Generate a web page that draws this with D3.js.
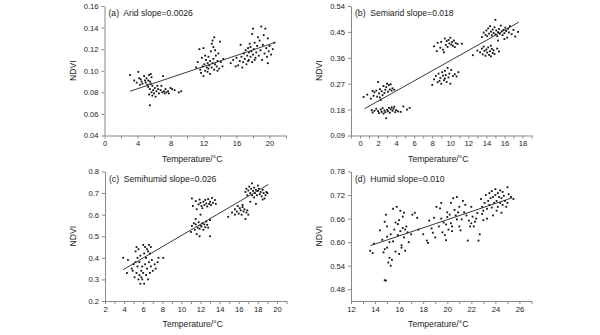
<!DOCTYPE html>
<html>
<head>
<meta charset="utf-8">
<script src="https://cdn.jsdelivr.net/npm/d3@7"></script>
<style>
  body { margin: 0; background: #fff; }
  text { font-family: "Liberation Sans", Arial, sans-serif; fill: #222; }
  .axis path, .axis line { stroke: #888; }
</style>
</head>
<body>
<svg id="chart" width="600" height="335"></svg>
<script>
// (a) Arid
var aridPts = [[3.1,0.096],[3.6,0.091],[3.9,0.089],[4.1,0.099],[4.2,0.093],[4.4,0.092],[4.5,0.090],[4.6,0.088],[4.8,0.095],[4.9,0.091],[5.0,0.089],[5.1,0.093],[5.2,0.087],[5.3,0.085],[5.3,0.091],[5.4,0.096],[5.5,0.090],[5.5,0.083],[5.6,0.097],[5.6,0.088],[5.7,0.094],[5.7,0.080],[5.8,0.086],[5.8,0.077],[5.5,0.068],[5.4,0.078],[5.9,0.082],[6.0,0.079],[6.1,0.084],[6.2,0.076],[6.3,0.081],[6.5,0.083],[6.6,0.079],[6.8,0.082],[6.9,0.086],[7.0,0.080],[7.1,0.095],[7.2,0.081],[7.3,0.079],[7.4,0.083],[7.5,0.080],[7.7,0.081],[7.8,0.079],[8.0,0.084],[8.2,0.083],[8.5,0.082],[9.3,0.081],[9.0,0.080],[4.3,0.087],[6.4,0.086],
  [11.1,0.103],[11.3,0.108],[11.5,0.120],[11.6,0.101],[11.7,0.098],[11.8,0.112],[11.9,0.104],[12.0,0.121],[12.0,0.095],[12.1,0.106],[12.2,0.100],[12.3,0.110],[12.4,0.103],[12.5,0.099],[12.5,0.107],[12.6,0.113],[12.7,0.105],[12.8,0.097],[12.8,0.109],[12.9,0.118],[13.0,0.125],[13.0,0.103],[13.1,0.128],[13.1,0.107],[13.2,0.122],[13.2,0.111],[13.3,0.131],[13.3,0.101],[13.4,0.119],[13.4,0.106],[13.5,0.114],[13.6,0.104],[13.7,0.109],[13.8,0.116],[13.9,0.102],[14.0,0.127],[14.1,0.108],[14.3,0.104],[14.4,0.111],[12.2,0.114],[12.6,0.102],[13.7,0.100],
  [15.3,0.107],[15.6,0.110],[15.9,0.104],[16.0,0.112],[16.2,0.105],[16.4,0.109],[16.5,0.124],[16.6,0.113],[16.8,0.108],[16.9,0.116],[17.0,0.111],[17.1,0.119],[17.2,0.106],[17.3,0.114],[17.4,0.121],[17.5,0.117],[17.5,0.110],[17.6,0.125],[17.7,0.113],[17.7,0.122],[17.8,0.118],[17.9,0.134],[17.9,0.108],[18.0,0.115],[18.0,0.139],[18.1,0.120],[18.2,0.126],[18.3,0.112],[18.4,0.117],[18.5,0.123],[18.6,0.131],[18.7,0.114],[18.8,0.128],[18.9,0.119],[19.0,0.141],[19.1,0.110],[19.2,0.124],[19.3,0.133],[19.4,0.116],[19.5,0.139],[19.6,0.121],[19.7,0.113],[19.8,0.130],[19.9,0.118],[20.0,0.123],[20.2,0.115],[20.4,0.120],[20.6,0.126],[19.8,0.107],[16.7,0.103],[17.4,0.109],[18.2,0.110]];
var aridFit = [[3.1,0.081],[20.6,0.126]];

// (b) Semiarid
var semiaridPts = [[0.4,0.224],[0.8,0.232],[1.2,0.218],[1.5,0.228],[1.6,0.240],[1.8,0.246],[1.9,0.225],[2.0,0.276],[2.1,0.236],[2.2,0.251],[2.3,0.214],[2.4,0.244],[2.5,0.230],[2.6,0.262],[2.7,0.238],[2.8,0.249],[2.9,0.258],[3.0,0.270],[3.1,0.242],[3.2,0.265],[3.3,0.250],[3.4,0.268],[3.5,0.246],[3.6,0.254],[3.8,0.249],[2.2,0.222],[1.4,0.245],
  [1.3,0.178],[1.4,0.170],[1.6,0.176],[1.8,0.183],[2.0,0.175],[2.1,0.168],[2.3,0.180],[2.4,0.172],[2.5,0.185],[2.6,0.166],[2.7,0.177],[2.8,0.171],[2.9,0.150],[3.0,0.179],[3.1,0.174],[3.2,0.186],[3.3,0.169],[3.4,0.181],[3.5,0.188],[3.6,0.176],[3.7,0.183],[3.8,0.190],[4.0,0.178],[4.2,0.174],[4.5,0.172],[4.8,0.191],[5.2,0.180],[5.5,0.186],[3.9,0.171],
  [8.2,0.400],[8.5,0.383],[8.6,0.412],[8.9,0.395],[9.2,0.388],[9.4,0.427],[9.5,0.405],[9.6,0.418],[9.7,0.398],[9.8,0.422],[9.9,0.410],[10.0,0.430],[10.1,0.406],[10.2,0.415],[10.3,0.402],[10.4,0.420],[10.6,0.411],[10.8,0.408],[11.3,0.409],[9.3,0.379],[10.5,0.397],[9.0,0.415],
  [8.0,0.266],[8.2,0.285],[8.4,0.297],[8.6,0.275],[8.7,0.305],[8.9,0.290],[9.0,0.270],[9.1,0.310],[9.2,0.298],[9.3,0.282],[9.4,0.315],[9.5,0.300],[9.6,0.276],[9.7,0.325],[9.8,0.292],[9.9,0.305],[10.0,0.270],[10.1,0.318],[10.3,0.297],[10.5,0.303],[10.7,0.295],[10.9,0.310],[9.4,0.288],[8.8,0.280],
  [12.5,0.369],[13.0,0.385],[13.3,0.379],[13.5,0.392],[13.6,0.372],[13.8,0.384],[13.9,0.367],[14.0,0.389],[14.1,0.378],[14.2,0.396],[14.3,0.370],[14.4,0.383],[14.5,0.365],[14.6,0.391],[14.7,0.377],[14.8,0.386],[14.9,0.373],[15.2,0.392],[15.4,0.382],[13.7,0.399],[14.5,0.402],
  [13.5,0.432],[13.7,0.448],[13.9,0.440],[14.0,0.455],[14.1,0.435],[14.2,0.462],[14.3,0.444],[14.4,0.470],[14.5,0.451],[14.6,0.438],[14.7,0.458],[14.8,0.446],[14.9,0.466],[15.0,0.441],[15.0,0.492],[15.1,0.455],[15.2,0.435],[15.3,0.449],[15.4,0.460],[15.5,0.444],[15.6,0.472],[15.7,0.452],[15.8,0.439],[15.9,0.457],[16.0,0.446],[16.1,0.465],[16.2,0.453],[16.3,0.430],[16.4,0.461],[16.5,0.448],[16.6,0.470],[16.8,0.442],[17.0,0.457],[17.2,0.434],[17.5,0.450],[15.3,0.420],[16.0,0.425]];
var semiaridFit = [[0.5,0.183],[17.6,0.484]];

// (c) Semihumid
var semihumidPts = [[3.9,0.40],[4.3,0.33],[4.4,0.39],[4.8,0.35],[4.9,0.34],[5.0,0.37],[5.1,0.31],[5.2,0.38],[5.2,0.43],[5.3,0.33],[5.4,0.40],[5.4,0.36],[5.5,0.30],[5.5,0.44],[5.6,0.32],[5.6,0.38],[5.7,0.41],[5.7,0.28],[5.8,0.34],[5.8,0.31],[5.9,0.36],[5.9,0.30],[6.0,0.46],[6.0,0.33],[6.1,0.42],[6.1,0.28],[6.2,0.45],[6.2,0.37],[6.3,0.40],[6.3,0.32],[6.4,0.44],[6.4,0.35],[6.5,0.43],[6.5,0.30],[6.6,0.46],[6.6,0.38],[6.7,0.42],[6.7,0.33],[6.8,0.36],[6.9,0.39],[7.0,0.34],[7.2,0.37],[7.3,0.35],[7.5,0.38],[7.6,0.40],[8.1,0.40],[5.3,0.45],[6.8,0.45],
  [11.1,0.675],[11.2,0.640],[11.5,0.663],[11.6,0.625],[11.8,0.648],[11.9,0.670],[12.0,0.655],[12.1,0.640],[12.2,0.630],[12.3,0.660],[12.4,0.645],[12.5,0.668],[12.6,0.652],[12.7,0.638],[12.8,0.672],[12.9,0.650],[13.0,0.660],[13.1,0.645],[13.2,0.678],[13.3,0.655],[13.5,0.668],[13.6,0.650],[12.0,0.600],
  [11.0,0.520],[11.1,0.548],[11.3,0.560],[11.4,0.530],[11.5,0.555],[11.6,0.510],[11.7,0.540],[11.8,0.565],[11.9,0.535],[11.9,0.500],[12.0,0.550],[12.1,0.545],[12.2,0.560],[12.3,0.530],[12.4,0.555],[12.5,0.542],[12.6,0.568],[12.8,0.540],[13.0,0.575],[13.0,0.500],[11.5,0.580],[12.7,0.553],
  [14.9,0.590],[15.3,0.610],[15.6,0.625],[15.8,0.615],[15.9,0.640],[16.0,0.605],[16.1,0.630],[16.2,0.620],[16.3,0.600],[16.4,0.635],[16.5,0.615],[16.6,0.625],[16.7,0.580],[16.8,0.610],[16.9,0.620],[17.0,0.600],[16.4,0.645],[15.6,0.600],
  [16.7,0.705],[16.8,0.720],[16.9,0.690],[17.0,0.712],[17.1,0.730],[17.2,0.700],[17.3,0.720],[17.4,0.745],[17.4,0.690],[17.5,0.710],[17.6,0.725],[17.6,0.680],[17.7,0.700],[17.8,0.715],[17.9,0.690],[18.0,0.710],[18.1,0.720],[18.2,0.695],[18.3,0.705],[18.4,0.685],[18.5,0.715],[18.6,0.700],[18.7,0.675],[18.8,0.690],[18.9,0.705],[19.0,0.700],[18.0,0.735],[17.2,0.660],[18.5,0.670],[17.8,0.650]];
var semihumidFit = [[3.9,0.345],[19.1,0.740]];

// (d) Humid
var humidPts = [[13.6,0.578],[13.8,0.572],[13.9,0.596],[14.4,0.630],[14.6,0.606],[14.7,0.574],[14.8,0.652],[14.8,0.582],[14.8,0.503],[14.9,0.502],[14.9,0.670],[15.0,0.614],[15.0,0.586],[15.1,0.548],[15.2,0.560],[15.2,0.600],[15.3,0.540],[15.3,0.620],[15.4,0.555],[15.5,0.685],[15.5,0.602],[15.6,0.632],[15.7,0.650],[15.7,0.576],[15.8,0.690],[15.9,0.646],[15.9,0.618],[16.0,0.656],[16.0,0.570],[16.1,0.680],[16.1,0.628],[16.2,0.592],[16.2,0.586],[16.3,0.665],[16.3,0.636],[16.4,0.675],[16.4,0.612],[16.5,0.578],[16.6,0.640],[16.7,0.625],[16.8,0.600],[17.0,0.620],[17.1,0.670],[17.3,0.675],[17.5,0.662],[17.6,0.632],[16.5,0.632],[15.0,0.640],
  [18.0,0.620],[18.3,0.604],[18.4,0.598],[18.5,0.655],[18.7,0.635],[18.8,0.624],[19.0,0.612],[19.1,0.690],[19.3,0.640],[19.4,0.686],[19.5,0.660],[19.6,0.625],[19.7,0.650],[19.8,0.618],[19.9,0.605],[20.0,0.664],[20.0,0.676],[20.1,0.632],[20.2,0.670],[20.3,0.700],[20.3,0.648],[20.4,0.640],[20.5,0.712],[20.6,0.682],[20.7,0.668],[20.8,0.658],[20.9,0.676],[21.0,0.690],[21.0,0.640],[21.1,0.630],[21.2,0.658],[21.4,0.676],[21.5,0.695],[21.6,0.668],[21.7,0.604],[21.8,0.655],[21.9,0.640],[22.0,0.648],[22.1,0.665],[22.2,0.640],[22.3,0.652],[22.4,0.660],[22.5,0.674],[22.6,0.604],[22.7,0.620],[22.0,0.690],[21.3,0.705],[19.5,0.700],[20.8,0.715],[18.9,0.662],[20.4,0.628],[19.9,0.645],
  [22.8,0.710],[22.9,0.690],[23.0,0.680],[23.1,0.700],[23.2,0.720],[23.3,0.685],[23.4,0.705],[23.5,0.695],[23.5,0.725],[23.6,0.712],[23.7,0.730],[23.7,0.688],[23.8,0.715],[23.9,0.700],[24.0,0.735],[24.0,0.720],[24.1,0.705],[24.2,0.690],[24.2,0.725],[24.3,0.715],[24.4,0.700],[24.4,0.732],[24.5,0.712],[24.6,0.695],[24.6,0.728],[24.7,0.718],[24.8,0.705],[24.9,0.690],[25.0,0.740],[25.1,0.722],[25.3,0.715],[25.5,0.710],[23.0,0.656],[23.8,0.668],[24.5,0.675],[23.3,0.660],[22.9,0.672],[24.1,0.680],[25.0,0.700]];
var humidFit = [[13.6,0.591],[25.4,0.713]];

// non-breaking space keeps the wide gap after the panel letter
var titles = ["(a)\u00a0 Arid slope=0.0026", "(b)\u00a0 Semiarid slope=0.018", "(c)\u00a0 Semihumid slope=0.026", "(d)\u00a0 Humid slope=0.010"];
var xLabelTicks = [[0,4,8,12,16,20], [0,2,4,6,8,10,12,14,16,18], [2,4,6,8,10,12,14,16,18,20], [12,14,16,18,20,22,24,26]];
var yTicks = [[0.04,0.06,0.08,0.10,0.12,0.14,0.16], [0.09,0.18,0.27,0.36,0.45,0.54], [0.2,0.3,0.4,0.5,0.6,0.7,0.8], [0.48,0.54,0.60,0.66,0.72,0.78]];

var panels = [
  {pts: aridPts, fit: aridFit, x0: 104.5, x1: 286, y0: 6, y1: 135.5, xd: [0,22], xstep: 2, yd: [0.04,0.16], yfmt: ".2f"},
  {pts: semiaridPts, fit: semiaridFit, x0: 351, x1: 531.5, y0: 6, y1: 135.5, xd: [-1,19], xstep: 1, yd: [0.09,0.54], yfmt: ".2f"},
  {pts: semihumidPts, fit: semihumidFit, x0: 105, x1: 286.5, y0: 171.5, y1: 301, xd: [2,21], xstep: 1, yd: [0.2,0.8], yfmt: ".1f"},
  {pts: humidPts, fit: humidFit, x0: 351, x1: 531.5, y0: 171.5, y1: 301, xd: [12,27], xstep: 1, yd: [0.45,0.78], yfmt: ".2f"}
];

var svg = d3.select("#chart");

panels.forEach(function (p, i) {
  var x = d3.scaleLinear().domain(p.xd).range([p.x0, p.x1]);
  var y = d3.scaleLinear().domain(p.yd).range([p.y1, p.y0]);
  var g = svg.append("g");

  var allX = d3.range(p.xd[0], p.xd[1] + 0.001, p.xstep);
  var labelled = xLabelTicks[i];

  g.append("g")
    .attr("class", "axis")
    .attr("transform", "translate(0," + p.y1 + ")")
    .call(d3.axisBottom(x).tickValues(allX).tickSizeInner(3).tickSizeOuter(0)
      .tickFormat(function (d) { return labelled.indexOf(Math.round(d)) >= 0 && Math.abs(d - Math.round(d)) < 1e-6 ? d : ""; }))
    .call(function (s) { s.selectAll("text").style("font-size", "7.6px").attr("dy", "0.75em").attr("y", 5); s.select(".domain").attr("stroke", "#888"); });

  g.append("g")
    .attr("class", "axis")
    .attr("transform", "translate(" + p.x0 + ",0)")
    .call(d3.axisLeft(y).tickValues(yTicks[i]).tickSizeInner(3).tickSizeOuter(0).tickFormat(d3.format(p.yfmt)))
    .call(function (s) { s.selectAll("text").style("font-size", "7.6px").attr("x", -6); s.select(".domain").attr("stroke", "#888"); });

  g.selectAll(".pt")
    .data(p.pts)
    .enter().append("rect")
    .attr("class", "pt")
    .attr("x", function (d) { return x(d[0]) - 0.9; })
    .attr("y", function (d) { return y(d[1]) - 0.9; })
    .attr("width", 1.8)
    .attr("height", 1.8)
    .attr("fill", "#111");

  g.append("line")
    .attr("x1", x(p.fit[0][0])).attr("y1", y(p.fit[0][1]))
    .attr("x2", x(p.fit[1][0])).attr("y2", y(p.fit[1][1]))
    .attr("stroke", "#222").attr("stroke-width", 0.9);

  g.append("text")
    .attr("x", p.x0 + 4)
    .attr("y", p.y0 + 10)
    .style("font-size", "8.6px")
    .text(titles[i]);

  g.append("text")
    .attr("transform", "translate(" + (p.x0 - 29) + "," + ((p.y0 + p.y1) / 2) + ")rotate(-90)")
    .attr("text-anchor", "middle")
    .style("font-size", "8.6px")
    .text("NDVI");

  g.append("text")
    .attr("x", (p.x0 + p.x1) / 2 - 3)
    .attr("y", p.y1 + 26)
    .attr("text-anchor", "middle")
    .style("font-size", "8.6px")
    .text("Temperature/\u00b0C");
});
</script>
</body>
</html>
